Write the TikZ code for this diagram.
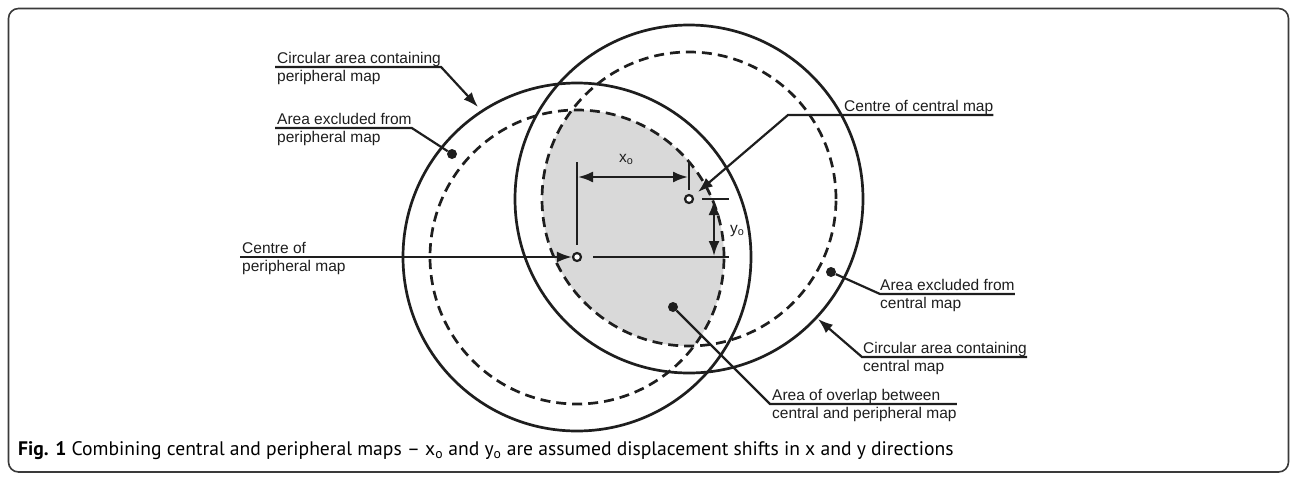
\documentclass[tikz,border=0pt]{standalone}
\usepackage{fontspec}
\setmainfont{Liberation Sans}
\newfontfamily\capfont[Ligatures=TeX]{PT Sans}
\usetikzlibrary{arrows.meta}

\definecolor{inkgrey}{HTML}{1E1E1E}
\definecolor{overlapgrey}{HTML}{D9D9D9}
\definecolor{framegrey}{HTML}{3A3A3A}

\begin{document}
\begin{tikzpicture}[x=1pt,y=-1pt,
  mapline/.style={draw=inkgrey, line width=2.7pt},
  mapdash/.style={draw=inkgrey, line width=2.7pt, dash pattern=on 10pt off 6pt},
  leader/.style={draw=inkgrey, line width=2.2pt},
  tipped/.style={leader, -{Latex[length=15pt,width=11pt]}},
  dimarrow/.style={leader, {Latex[length=15pt,width=11pt]}-{Latex[length=15pt,width=11pt]}},
  lbl/.style={anchor=base west, inner sep=0pt, text=inkgrey, font=\fontsize{15.5}{18}\selectfont},
  dot/.style={circle, fill=inkgrey, inner sep=0pt, minimum size=10pt},
  ctr/.style={circle, draw=inkgrey, fill=white, line width=2.2pt, inner sep=0pt, minimum size=8pt}]
 \useasboundingbox (0,0) rectangle (1295,477);
 \draw[framegrey, line width=1.6pt, rounded corners=10pt] (8.5,8.5) rectangle (1288.5,472);

 % map centres
 \coordinate (pcen) at (577,257);
 \coordinate (ccen) at (689,199);

 % overlap of the two usable areas
 \begin{scope}
  \clip (pcen) circle[radius=147pt];
  \fill[overlapgrey] (ccen) circle[radius=147pt];
 \end{scope}

 \draw[mapline] (pcen) circle[radius=174pt];
 \draw[mapline] (ccen) circle[radius=174pt];
 \draw[mapdash] (pcen) circle[radius=147pt];
 \draw[mapdash] (ccen) circle[radius=147pt];

 % displacement x_o and y_o
 \draw[leader] (577,162) -- (577,245);
 \draw[leader] (689,162) -- (689,190);
 \draw[leader] (593,257) -- (729,257);
 \draw[leader] (702,199) -- (729,199);
 \coordinate (xoa) at (578,177);
 \coordinate (xob) at (688,177);
 \coordinate (yoa) at (714,200);
 \coordinate (yob) at (714,256);
 \draw[dimarrow] (xoa) -- (xob);
 \draw[dimarrow] (yoa) -- (yob);
 \node[lbl] (xo) at (619,162) {x\textsubscript{o}};
 \node[lbl] (yo) at (730,233) {y\textsubscript{o}};

 \node[ctr] (pc) at (pcen) {};
 \node[ctr] (cc) at (ccen) {};

 % targets
 \coordinate (cptip) at (478,107);
 \node[dot] (epdot) at (452,154) {};
 \coordinate (cctip) at (698,192);
 \node[dot] (ecdot) at (831,272) {};
 \coordinate (cmtip) at (818,319);
 \node[dot] (ovdot) at (673,307) {};

 % labels, left
 \coordinate (u1) at (275,67);
 \node[lbl] (cpa) at (277,63) {Circular area containing};
 \node[lbl] (cpb) at (277,81) {peripheral map};
 \draw[tipped] (u1) -- (u1 -| cpa.east) -- (cptip);

 \coordinate (u2) at (275,128);
 \node[lbl] (epa) at (277,124) {Area excluded from};
 \node[lbl] (epb) at (277,142) {peripheral map};
 \draw[leader] (u2) -- (u2 -| epa.east) -- (epdot);

 \coordinate (u3) at (240,257);
 \node[lbl] (cpc) at (242,253) {Centre of};
 \node[lbl] (cpd) at (242,271) {peripheral map};
 \draw[tipped] (u3) -- (pc.west);

 % labels, right
 \node[lbl] (cca) at (844,111) {Centre of central map};
 \coordinate (u4) at (788,115);
 \draw[tipped] (u4 -| cca.east) -- (u4) -- (cctip);

 \node[lbl] (eca) at (880,290) {Area excluded from};
 \node[lbl] (ecb) at (880,308) {central map};
 \coordinate (u5) at (880,294);
 \draw[leader] (u5 -| eca.east) -- (u5) -- (ecdot);

 \node[lbl] (cma) at (863,353) {Circular area containing};
 \node[lbl] (cmb) at (863,371) {central map};
 \coordinate (u6) at (862,357);
 \draw[tipped] (u6 -| cma.east) -- (u6) -- (cmtip);

 \node[lbl] (ova) at (772,400) {Area of overlap between};
 \node[lbl] (ovb) at (772,418) {central and peripheral map};
 \coordinate (u7) at (770,404);
 \draw[leader] (u7 -| ovb.east) -- (u7) -- (ovdot);

 % caption
 \node[anchor=base west, inner sep=0pt, font=\capfont\fontsize{19.6}{22}\selectfont] (cap) at (18,455)
  {\textbf{Fig. 1} Combining central and peripheral maps – x\textsubscript{o} and y\textsubscript{o} are assumed displacement shifts in x and y directions};
\end{tikzpicture}
\end{document}
